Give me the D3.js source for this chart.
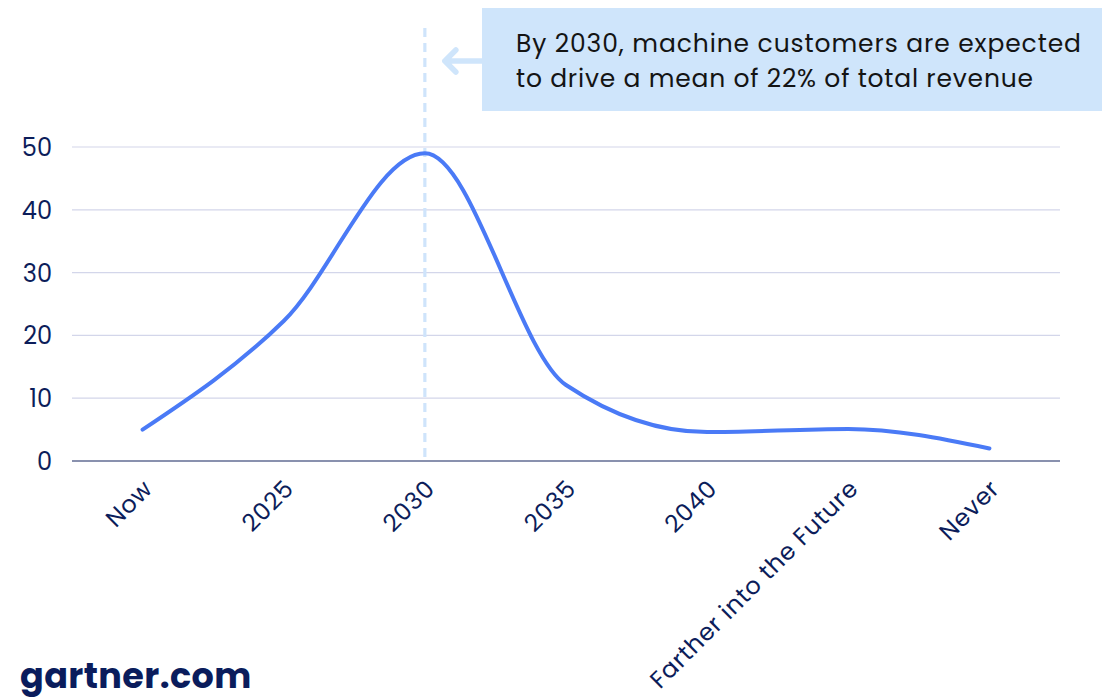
<!DOCTYPE html>
<html>
<head>
<meta charset="utf-8">
<script src="https://cdn.jsdelivr.net/npm/d3@7"></script>
<style>
  html, body { margin: 0; padding: 0; background: #ffffff; }
  svg { display: block; }
</style>
</head>
<body>
<svg id="chart" width="1102" height="699"></svg>
<script>
// Share of respondents by expected timing of machine-customer revenue
const categories = ["Now", "2025", "2030", "2035", "2040", "Farther into the Future", "Never"];
const values = [5, 22.3, 49, 12.1, 4.6, 5.1, 2];
const yTicks = [0, 10, 20, 30, 40, 50];
const highlightCategory = "2030";
const noteLines = [
  "By 2030, machine customers are expected",
  "to drive a mean of 22% of total revenue"
];
const noteWidths = [565, 517];
const brand = "gartner.com";

const svg = d3.select("#chart");
const fontFamily = "Poppins, 'Open Sans', 'Noto Sans', sans-serif";
const navy = "#0c1d5a";

const margin = { left: 72, right: 42, top: 147, bottom: 238 };
const W = 1102, H = 699;

const x = d3.scalePoint()
  .domain(categories)
  .range([margin.left, W - margin.right])
  .padding(0.5);

const y = d3.scaleLinear()
  .domain([0, 50])
  .range([H - margin.bottom, margin.top]);

// horizontal gridlines
svg.append("g")
  .selectAll("line")
  .data(yTicks.filter(d => d !== 0))
  .join("line")
  .attr("x1", margin.left)
  .attr("x2", W - margin.right)
  .attr("y1", d => y(d))
  .attr("y2", d => y(d))
  .attr("stroke", "#d3d6ea")
  .attr("stroke-width", 1.2);

// baseline
svg.append("line")
  .attr("x1", margin.left)
  .attr("x2", W - margin.right)
  .attr("y1", y(0))
  .attr("y2", y(0))
  .attr("stroke", "#626d93")
  .attr("stroke-width", 1.4);

// y axis labels
const yAxis = d3.axisLeft(y).tickValues(yTicks).tickSize(0).tickPadding(0);
const gy = svg.append("g")
  .attr("transform", `translate(${margin.left - 20},0)`)
  .call(yAxis);
gy.select(".domain").remove();
gy.selectAll("text")
  .attr("font-family", fontFamily)
  .attr("font-size", 24)
  .attr("fill", navy)
  .attr("dy", "0.35em");

// x axis labels, rotated
const xAxis = d3.axisBottom(x).tickSize(0).tickPadding(0);
const gx = svg.append("g")
  .attr("transform", `translate(0,${y(0)})`)
  .call(xAxis);
gx.select(".domain").remove();
gx.selectAll("text")
  .attr("font-family", fontFamily)
  .attr("font-size", 24)
  .attr("letter-spacing", 0.8)
  .attr("fill", navy)
  .attr("text-anchor", "end")
  .attr("dy", null)
  .attr("y", 0)
  .attr("transform", "translate(11,29) rotate(-45)");

// dashed highlight line at 2030
svg.append("line")
  .attr("x1", x(highlightCategory))
  .attr("x2", x(highlightCategory))
  .attr("y1", 28)
  .attr("y2", y(0))
  .attr("stroke", "#cfe4fb")
  .attr("stroke-width", 3.2)
  .attr("stroke-dasharray", "9,6");

// data curve
const line = d3.line()
  .x((d, i) => x(categories[i]))
  .y(d => y(d))
  .curve(d3.curveMonotoneX);

svg.append("path")
  .datum(values)
  .attr("d", line)
  .attr("fill", "none")
  .attr("stroke", "#4a7af6")
  .attr("stroke-width", 4)
  .attr("stroke-linecap", "round")
  .attr("stroke-linejoin", "round");

// annotation box
const boxX = 482, boxY = 8, boxH = 103;
svg.append("rect")
  .attr("x", boxX)
  .attr("y", boxY)
  .attr("width", W - boxX)
  .attr("height", boxH)
  .attr("fill", "#cfe5fb");

svg.append("text")
  .attr("font-family", fontFamily)
  .attr("font-size", 25)
  .attr("fill", "#141414")
  .selectAll("tspan")
  .data(noteLines)
  .join("tspan")
  .attr("x", 516)
  .attr("y", (d, i) => 52 + i * 35)
  .attr("textLength", (d, i) => noteWidths[i])
  .attr("lengthAdjust", "spacing")
  .text(d => d);

// arrow pointing at the highlight line
const ax = x(highlightCategory) + 20, ay = 61;
svg.append("path")
  .attr("d", `M${boxX},${ay} H${ax} M${ax + 11},${ay - 11} L${ax},${ay} L${ax + 11},${ay + 11}`)
  .attr("fill", "none")
  .attr("stroke", "#cfe5fb")
  .attr("stroke-width", 5.5)
  .attr("stroke-linecap", "round")
  .attr("stroke-linejoin", "round");

// brand
svg.append("text")
  .attr("x", 20)
  .attr("y", 688)
  .attr("font-family", fontFamily)
  .attr("font-size", 35)
  .attr("font-weight", 700)
  .attr("letter-spacing", 0.4)
  .attr("fill", "#0a1c5c")
  .text(brand);
</script>
</body>
</html>
